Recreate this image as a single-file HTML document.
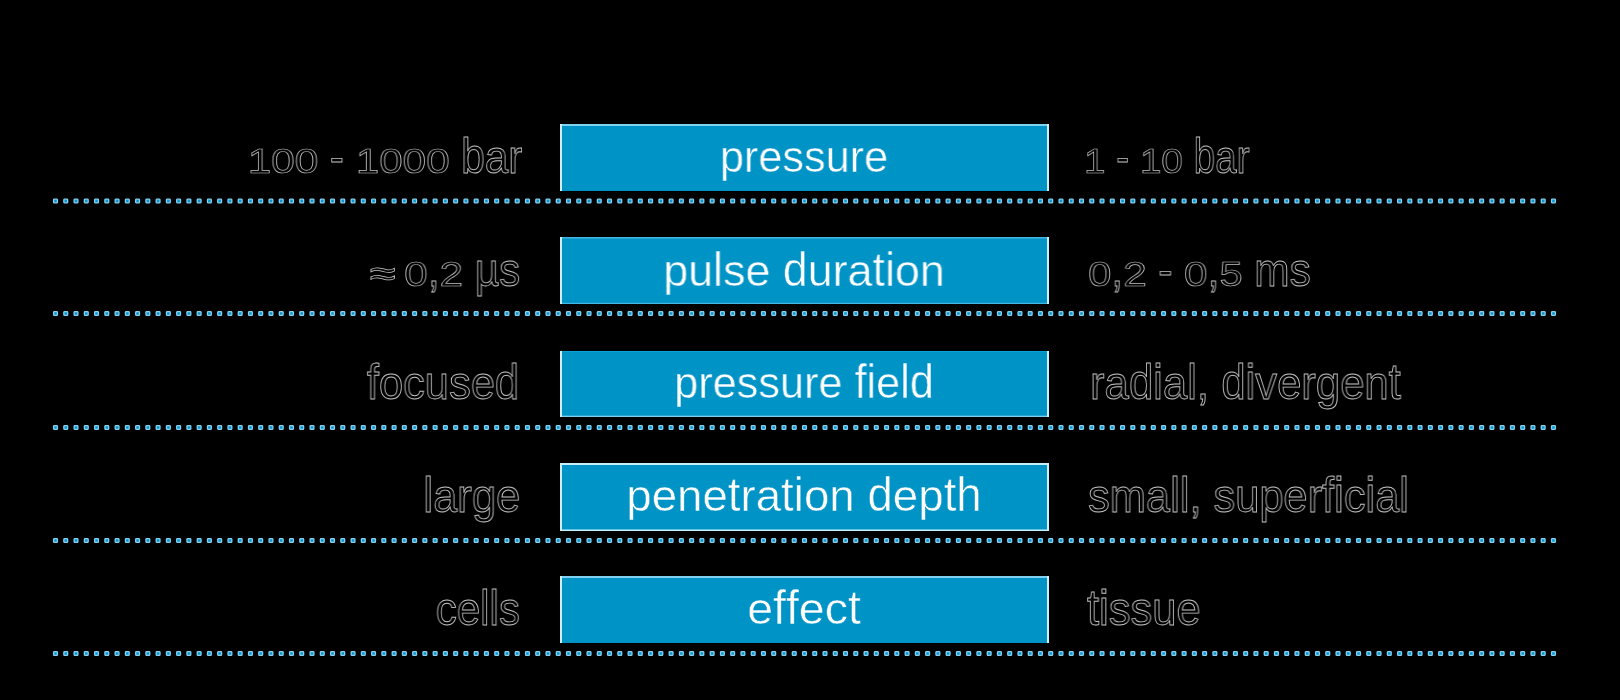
<!DOCTYPE html>
<html><head><meta charset="utf-8">
<style>
html,body{margin:0;padding:0;background:#000;width:1620px;height:700px;overflow:hidden;}
body{position:relative;font-family:"Liberation Sans",sans-serif;}
.t{position:absolute;white-space:nowrap;will-change:transform;}
.w{color:#fff;-webkit-text-stroke:0.5px #0093c6;}
.o{color:#000;-webkit-text-stroke:0.9px #c4c4c4;}
.ap{display:inline-block;transform:translate(2px,3px) scale(1.12,0.8);transform-origin:50% 50%;}
.d{display:inline-block;transform:scaleY(0.77);transform-origin:50% 0.8465em;}
.ab{display:inline-block;transform:scaleY(1.08);transform-origin:50% 0.8465em;}
.a{display:inline-block;transform:scaleY(1.1);transform-origin:50% 0.8465em;}
svg{position:absolute;left:0;top:0;}
</style></head><body>

<svg width="1620" height="700" viewBox="0 0 1620 700">
<rect x="560" y="124" width="489" height="67" fill="#0093c6"/>
<rect x="560" y="124" width="489" height="2" fill="#7fd3f0"/>
<rect x="560" y="124" width="2" height="67" fill="#cdeffa"/>
<rect x="1047" y="124" width="2" height="67" fill="#cdeffa"/>
<g fill="#0a94cc" stroke="#86d2f2" stroke-width="1.3"><rect x="53.60" y="199.15" width="3.8" height="3.7" rx="0.7"/><rect x="63.86" y="199.15" width="3.8" height="3.7" rx="0.7"/><rect x="74.12" y="199.15" width="3.8" height="3.7" rx="0.7"/><rect x="84.38" y="199.15" width="3.8" height="3.7" rx="0.7"/><rect x="94.64" y="199.15" width="3.8" height="3.7" rx="0.7"/><rect x="104.90" y="199.15" width="3.8" height="3.7" rx="0.7"/><rect x="115.16" y="199.15" width="3.8" height="3.7" rx="0.7"/><rect x="125.42" y="199.15" width="3.8" height="3.7" rx="0.7"/><rect x="135.68" y="199.15" width="3.8" height="3.7" rx="0.7"/><rect x="145.94" y="199.15" width="3.8" height="3.7" rx="0.7"/><rect x="156.20" y="199.15" width="3.8" height="3.7" rx="0.7"/><rect x="166.46" y="199.15" width="3.8" height="3.7" rx="0.7"/><rect x="176.72" y="199.15" width="3.8" height="3.7" rx="0.7"/><rect x="186.98" y="199.15" width="3.8" height="3.7" rx="0.7"/><rect x="197.24" y="199.15" width="3.8" height="3.7" rx="0.7"/><rect x="207.50" y="199.15" width="3.8" height="3.7" rx="0.7"/><rect x="217.76" y="199.15" width="3.8" height="3.7" rx="0.7"/><rect x="228.02" y="199.15" width="3.8" height="3.7" rx="0.7"/><rect x="238.28" y="199.15" width="3.8" height="3.7" rx="0.7"/><rect x="248.54" y="199.15" width="3.8" height="3.7" rx="0.7"/><rect x="258.80" y="199.15" width="3.8" height="3.7" rx="0.7"/><rect x="269.06" y="199.15" width="3.8" height="3.7" rx="0.7"/><rect x="279.32" y="199.15" width="3.8" height="3.7" rx="0.7"/><rect x="289.58" y="199.15" width="3.8" height="3.7" rx="0.7"/><rect x="299.84" y="199.15" width="3.8" height="3.7" rx="0.7"/><rect x="310.10" y="199.15" width="3.8" height="3.7" rx="0.7"/><rect x="320.36" y="199.15" width="3.8" height="3.7" rx="0.7"/><rect x="330.62" y="199.15" width="3.8" height="3.7" rx="0.7"/><rect x="340.88" y="199.15" width="3.8" height="3.7" rx="0.7"/><rect x="351.14" y="199.15" width="3.8" height="3.7" rx="0.7"/><rect x="361.40" y="199.15" width="3.8" height="3.7" rx="0.7"/><rect x="371.66" y="199.15" width="3.8" height="3.7" rx="0.7"/><rect x="381.92" y="199.15" width="3.8" height="3.7" rx="0.7"/><rect x="392.18" y="199.15" width="3.8" height="3.7" rx="0.7"/><rect x="402.44" y="199.15" width="3.8" height="3.7" rx="0.7"/><rect x="412.70" y="199.15" width="3.8" height="3.7" rx="0.7"/><rect x="422.96" y="199.15" width="3.8" height="3.7" rx="0.7"/><rect x="433.22" y="199.15" width="3.8" height="3.7" rx="0.7"/><rect x="443.48" y="199.15" width="3.8" height="3.7" rx="0.7"/><rect x="453.74" y="199.15" width="3.8" height="3.7" rx="0.7"/><rect x="464.00" y="199.15" width="3.8" height="3.7" rx="0.7"/><rect x="474.26" y="199.15" width="3.8" height="3.7" rx="0.7"/><rect x="484.52" y="199.15" width="3.8" height="3.7" rx="0.7"/><rect x="494.78" y="199.15" width="3.8" height="3.7" rx="0.7"/><rect x="505.04" y="199.15" width="3.8" height="3.7" rx="0.7"/><rect x="515.30" y="199.15" width="3.8" height="3.7" rx="0.7"/><rect x="525.56" y="199.15" width="3.8" height="3.7" rx="0.7"/><rect x="535.82" y="199.15" width="3.8" height="3.7" rx="0.7"/><rect x="546.08" y="199.15" width="3.8" height="3.7" rx="0.7"/><rect x="556.34" y="199.15" width="3.8" height="3.7" rx="0.7"/><rect x="566.60" y="199.15" width="3.8" height="3.7" rx="0.7"/><rect x="576.86" y="199.15" width="3.8" height="3.7" rx="0.7"/><rect x="587.12" y="199.15" width="3.8" height="3.7" rx="0.7"/><rect x="597.38" y="199.15" width="3.8" height="3.7" rx="0.7"/><rect x="607.64" y="199.15" width="3.8" height="3.7" rx="0.7"/><rect x="617.90" y="199.15" width="3.8" height="3.7" rx="0.7"/><rect x="628.16" y="199.15" width="3.8" height="3.7" rx="0.7"/><rect x="638.42" y="199.15" width="3.8" height="3.7" rx="0.7"/><rect x="648.68" y="199.15" width="3.8" height="3.7" rx="0.7"/><rect x="658.94" y="199.15" width="3.8" height="3.7" rx="0.7"/><rect x="669.20" y="199.15" width="3.8" height="3.7" rx="0.7"/><rect x="679.46" y="199.15" width="3.8" height="3.7" rx="0.7"/><rect x="689.72" y="199.15" width="3.8" height="3.7" rx="0.7"/><rect x="699.98" y="199.15" width="3.8" height="3.7" rx="0.7"/><rect x="710.24" y="199.15" width="3.8" height="3.7" rx="0.7"/><rect x="720.50" y="199.15" width="3.8" height="3.7" rx="0.7"/><rect x="730.76" y="199.15" width="3.8" height="3.7" rx="0.7"/><rect x="741.02" y="199.15" width="3.8" height="3.7" rx="0.7"/><rect x="751.28" y="199.15" width="3.8" height="3.7" rx="0.7"/><rect x="761.54" y="199.15" width="3.8" height="3.7" rx="0.7"/><rect x="771.80" y="199.15" width="3.8" height="3.7" rx="0.7"/><rect x="782.06" y="199.15" width="3.8" height="3.7" rx="0.7"/><rect x="792.32" y="199.15" width="3.8" height="3.7" rx="0.7"/><rect x="802.58" y="199.15" width="3.8" height="3.7" rx="0.7"/><rect x="812.84" y="199.15" width="3.8" height="3.7" rx="0.7"/><rect x="823.10" y="199.15" width="3.8" height="3.7" rx="0.7"/><rect x="833.36" y="199.15" width="3.8" height="3.7" rx="0.7"/><rect x="843.62" y="199.15" width="3.8" height="3.7" rx="0.7"/><rect x="853.88" y="199.15" width="3.8" height="3.7" rx="0.7"/><rect x="864.14" y="199.15" width="3.8" height="3.7" rx="0.7"/><rect x="874.40" y="199.15" width="3.8" height="3.7" rx="0.7"/><rect x="884.66" y="199.15" width="3.8" height="3.7" rx="0.7"/><rect x="894.92" y="199.15" width="3.8" height="3.7" rx="0.7"/><rect x="905.18" y="199.15" width="3.8" height="3.7" rx="0.7"/><rect x="915.44" y="199.15" width="3.8" height="3.7" rx="0.7"/><rect x="925.70" y="199.15" width="3.8" height="3.7" rx="0.7"/><rect x="935.96" y="199.15" width="3.8" height="3.7" rx="0.7"/><rect x="946.22" y="199.15" width="3.8" height="3.7" rx="0.7"/><rect x="956.48" y="199.15" width="3.8" height="3.7" rx="0.7"/><rect x="966.74" y="199.15" width="3.8" height="3.7" rx="0.7"/><rect x="977.00" y="199.15" width="3.8" height="3.7" rx="0.7"/><rect x="987.26" y="199.15" width="3.8" height="3.7" rx="0.7"/><rect x="997.52" y="199.15" width="3.8" height="3.7" rx="0.7"/><rect x="1007.78" y="199.15" width="3.8" height="3.7" rx="0.7"/><rect x="1018.04" y="199.15" width="3.8" height="3.7" rx="0.7"/><rect x="1028.30" y="199.15" width="3.8" height="3.7" rx="0.7"/><rect x="1038.56" y="199.15" width="3.8" height="3.7" rx="0.7"/><rect x="1048.82" y="199.15" width="3.8" height="3.7" rx="0.7"/><rect x="1059.08" y="199.15" width="3.8" height="3.7" rx="0.7"/><rect x="1069.34" y="199.15" width="3.8" height="3.7" rx="0.7"/><rect x="1079.60" y="199.15" width="3.8" height="3.7" rx="0.7"/><rect x="1089.86" y="199.15" width="3.8" height="3.7" rx="0.7"/><rect x="1100.12" y="199.15" width="3.8" height="3.7" rx="0.7"/><rect x="1110.38" y="199.15" width="3.8" height="3.7" rx="0.7"/><rect x="1120.64" y="199.15" width="3.8" height="3.7" rx="0.7"/><rect x="1130.90" y="199.15" width="3.8" height="3.7" rx="0.7"/><rect x="1141.16" y="199.15" width="3.8" height="3.7" rx="0.7"/><rect x="1151.42" y="199.15" width="3.8" height="3.7" rx="0.7"/><rect x="1161.68" y="199.15" width="3.8" height="3.7" rx="0.7"/><rect x="1171.94" y="199.15" width="3.8" height="3.7" rx="0.7"/><rect x="1182.20" y="199.15" width="3.8" height="3.7" rx="0.7"/><rect x="1192.46" y="199.15" width="3.8" height="3.7" rx="0.7"/><rect x="1202.72" y="199.15" width="3.8" height="3.7" rx="0.7"/><rect x="1212.98" y="199.15" width="3.8" height="3.7" rx="0.7"/><rect x="1223.24" y="199.15" width="3.8" height="3.7" rx="0.7"/><rect x="1233.50" y="199.15" width="3.8" height="3.7" rx="0.7"/><rect x="1243.76" y="199.15" width="3.8" height="3.7" rx="0.7"/><rect x="1254.02" y="199.15" width="3.8" height="3.7" rx="0.7"/><rect x="1264.28" y="199.15" width="3.8" height="3.7" rx="0.7"/><rect x="1274.54" y="199.15" width="3.8" height="3.7" rx="0.7"/><rect x="1284.80" y="199.15" width="3.8" height="3.7" rx="0.7"/><rect x="1295.06" y="199.15" width="3.8" height="3.7" rx="0.7"/><rect x="1305.32" y="199.15" width="3.8" height="3.7" rx="0.7"/><rect x="1315.58" y="199.15" width="3.8" height="3.7" rx="0.7"/><rect x="1325.84" y="199.15" width="3.8" height="3.7" rx="0.7"/><rect x="1336.10" y="199.15" width="3.8" height="3.7" rx="0.7"/><rect x="1346.36" y="199.15" width="3.8" height="3.7" rx="0.7"/><rect x="1356.62" y="199.15" width="3.8" height="3.7" rx="0.7"/><rect x="1366.88" y="199.15" width="3.8" height="3.7" rx="0.7"/><rect x="1377.14" y="199.15" width="3.8" height="3.7" rx="0.7"/><rect x="1387.40" y="199.15" width="3.8" height="3.7" rx="0.7"/><rect x="1397.66" y="199.15" width="3.8" height="3.7" rx="0.7"/><rect x="1407.92" y="199.15" width="3.8" height="3.7" rx="0.7"/><rect x="1418.18" y="199.15" width="3.8" height="3.7" rx="0.7"/><rect x="1428.44" y="199.15" width="3.8" height="3.7" rx="0.7"/><rect x="1438.70" y="199.15" width="3.8" height="3.7" rx="0.7"/><rect x="1448.96" y="199.15" width="3.8" height="3.7" rx="0.7"/><rect x="1459.22" y="199.15" width="3.8" height="3.7" rx="0.7"/><rect x="1469.48" y="199.15" width="3.8" height="3.7" rx="0.7"/><rect x="1479.74" y="199.15" width="3.8" height="3.7" rx="0.7"/><rect x="1490.00" y="199.15" width="3.8" height="3.7" rx="0.7"/><rect x="1500.26" y="199.15" width="3.8" height="3.7" rx="0.7"/><rect x="1510.52" y="199.15" width="3.8" height="3.7" rx="0.7"/><rect x="1520.78" y="199.15" width="3.8" height="3.7" rx="0.7"/><rect x="1531.04" y="199.15" width="3.8" height="3.7" rx="0.7"/><rect x="1541.30" y="199.15" width="3.8" height="3.7" rx="0.7"/><rect x="1551.56" y="199.15" width="3.8" height="3.7" rx="0.7"/></g>
<rect x="560" y="237" width="489" height="67" fill="#0093c6"/>
<rect x="560" y="237" width="489" height="1.5" fill="#45b5e2"/>
<rect x="560" y="302.8" width="489" height="1.2" fill="#42b8e6"/>
<rect x="560" y="237" width="2" height="67" fill="#cdeffa"/>
<rect x="1047" y="237" width="2" height="67" fill="#cdeffa"/>
<g fill="#0a94cc" stroke="#86d2f2" stroke-width="1.3"><rect x="53.60" y="311.65" width="3.8" height="3.7" rx="0.7"/><rect x="63.86" y="311.65" width="3.8" height="3.7" rx="0.7"/><rect x="74.12" y="311.65" width="3.8" height="3.7" rx="0.7"/><rect x="84.38" y="311.65" width="3.8" height="3.7" rx="0.7"/><rect x="94.64" y="311.65" width="3.8" height="3.7" rx="0.7"/><rect x="104.90" y="311.65" width="3.8" height="3.7" rx="0.7"/><rect x="115.16" y="311.65" width="3.8" height="3.7" rx="0.7"/><rect x="125.42" y="311.65" width="3.8" height="3.7" rx="0.7"/><rect x="135.68" y="311.65" width="3.8" height="3.7" rx="0.7"/><rect x="145.94" y="311.65" width="3.8" height="3.7" rx="0.7"/><rect x="156.20" y="311.65" width="3.8" height="3.7" rx="0.7"/><rect x="166.46" y="311.65" width="3.8" height="3.7" rx="0.7"/><rect x="176.72" y="311.65" width="3.8" height="3.7" rx="0.7"/><rect x="186.98" y="311.65" width="3.8" height="3.7" rx="0.7"/><rect x="197.24" y="311.65" width="3.8" height="3.7" rx="0.7"/><rect x="207.50" y="311.65" width="3.8" height="3.7" rx="0.7"/><rect x="217.76" y="311.65" width="3.8" height="3.7" rx="0.7"/><rect x="228.02" y="311.65" width="3.8" height="3.7" rx="0.7"/><rect x="238.28" y="311.65" width="3.8" height="3.7" rx="0.7"/><rect x="248.54" y="311.65" width="3.8" height="3.7" rx="0.7"/><rect x="258.80" y="311.65" width="3.8" height="3.7" rx="0.7"/><rect x="269.06" y="311.65" width="3.8" height="3.7" rx="0.7"/><rect x="279.32" y="311.65" width="3.8" height="3.7" rx="0.7"/><rect x="289.58" y="311.65" width="3.8" height="3.7" rx="0.7"/><rect x="299.84" y="311.65" width="3.8" height="3.7" rx="0.7"/><rect x="310.10" y="311.65" width="3.8" height="3.7" rx="0.7"/><rect x="320.36" y="311.65" width="3.8" height="3.7" rx="0.7"/><rect x="330.62" y="311.65" width="3.8" height="3.7" rx="0.7"/><rect x="340.88" y="311.65" width="3.8" height="3.7" rx="0.7"/><rect x="351.14" y="311.65" width="3.8" height="3.7" rx="0.7"/><rect x="361.40" y="311.65" width="3.8" height="3.7" rx="0.7"/><rect x="371.66" y="311.65" width="3.8" height="3.7" rx="0.7"/><rect x="381.92" y="311.65" width="3.8" height="3.7" rx="0.7"/><rect x="392.18" y="311.65" width="3.8" height="3.7" rx="0.7"/><rect x="402.44" y="311.65" width="3.8" height="3.7" rx="0.7"/><rect x="412.70" y="311.65" width="3.8" height="3.7" rx="0.7"/><rect x="422.96" y="311.65" width="3.8" height="3.7" rx="0.7"/><rect x="433.22" y="311.65" width="3.8" height="3.7" rx="0.7"/><rect x="443.48" y="311.65" width="3.8" height="3.7" rx="0.7"/><rect x="453.74" y="311.65" width="3.8" height="3.7" rx="0.7"/><rect x="464.00" y="311.65" width="3.8" height="3.7" rx="0.7"/><rect x="474.26" y="311.65" width="3.8" height="3.7" rx="0.7"/><rect x="484.52" y="311.65" width="3.8" height="3.7" rx="0.7"/><rect x="494.78" y="311.65" width="3.8" height="3.7" rx="0.7"/><rect x="505.04" y="311.65" width="3.8" height="3.7" rx="0.7"/><rect x="515.30" y="311.65" width="3.8" height="3.7" rx="0.7"/><rect x="525.56" y="311.65" width="3.8" height="3.7" rx="0.7"/><rect x="535.82" y="311.65" width="3.8" height="3.7" rx="0.7"/><rect x="546.08" y="311.65" width="3.8" height="3.7" rx="0.7"/><rect x="556.34" y="311.65" width="3.8" height="3.7" rx="0.7"/><rect x="566.60" y="311.65" width="3.8" height="3.7" rx="0.7"/><rect x="576.86" y="311.65" width="3.8" height="3.7" rx="0.7"/><rect x="587.12" y="311.65" width="3.8" height="3.7" rx="0.7"/><rect x="597.38" y="311.65" width="3.8" height="3.7" rx="0.7"/><rect x="607.64" y="311.65" width="3.8" height="3.7" rx="0.7"/><rect x="617.90" y="311.65" width="3.8" height="3.7" rx="0.7"/><rect x="628.16" y="311.65" width="3.8" height="3.7" rx="0.7"/><rect x="638.42" y="311.65" width="3.8" height="3.7" rx="0.7"/><rect x="648.68" y="311.65" width="3.8" height="3.7" rx="0.7"/><rect x="658.94" y="311.65" width="3.8" height="3.7" rx="0.7"/><rect x="669.20" y="311.65" width="3.8" height="3.7" rx="0.7"/><rect x="679.46" y="311.65" width="3.8" height="3.7" rx="0.7"/><rect x="689.72" y="311.65" width="3.8" height="3.7" rx="0.7"/><rect x="699.98" y="311.65" width="3.8" height="3.7" rx="0.7"/><rect x="710.24" y="311.65" width="3.8" height="3.7" rx="0.7"/><rect x="720.50" y="311.65" width="3.8" height="3.7" rx="0.7"/><rect x="730.76" y="311.65" width="3.8" height="3.7" rx="0.7"/><rect x="741.02" y="311.65" width="3.8" height="3.7" rx="0.7"/><rect x="751.28" y="311.65" width="3.8" height="3.7" rx="0.7"/><rect x="761.54" y="311.65" width="3.8" height="3.7" rx="0.7"/><rect x="771.80" y="311.65" width="3.8" height="3.7" rx="0.7"/><rect x="782.06" y="311.65" width="3.8" height="3.7" rx="0.7"/><rect x="792.32" y="311.65" width="3.8" height="3.7" rx="0.7"/><rect x="802.58" y="311.65" width="3.8" height="3.7" rx="0.7"/><rect x="812.84" y="311.65" width="3.8" height="3.7" rx="0.7"/><rect x="823.10" y="311.65" width="3.8" height="3.7" rx="0.7"/><rect x="833.36" y="311.65" width="3.8" height="3.7" rx="0.7"/><rect x="843.62" y="311.65" width="3.8" height="3.7" rx="0.7"/><rect x="853.88" y="311.65" width="3.8" height="3.7" rx="0.7"/><rect x="864.14" y="311.65" width="3.8" height="3.7" rx="0.7"/><rect x="874.40" y="311.65" width="3.8" height="3.7" rx="0.7"/><rect x="884.66" y="311.65" width="3.8" height="3.7" rx="0.7"/><rect x="894.92" y="311.65" width="3.8" height="3.7" rx="0.7"/><rect x="905.18" y="311.65" width="3.8" height="3.7" rx="0.7"/><rect x="915.44" y="311.65" width="3.8" height="3.7" rx="0.7"/><rect x="925.70" y="311.65" width="3.8" height="3.7" rx="0.7"/><rect x="935.96" y="311.65" width="3.8" height="3.7" rx="0.7"/><rect x="946.22" y="311.65" width="3.8" height="3.7" rx="0.7"/><rect x="956.48" y="311.65" width="3.8" height="3.7" rx="0.7"/><rect x="966.74" y="311.65" width="3.8" height="3.7" rx="0.7"/><rect x="977.00" y="311.65" width="3.8" height="3.7" rx="0.7"/><rect x="987.26" y="311.65" width="3.8" height="3.7" rx="0.7"/><rect x="997.52" y="311.65" width="3.8" height="3.7" rx="0.7"/><rect x="1007.78" y="311.65" width="3.8" height="3.7" rx="0.7"/><rect x="1018.04" y="311.65" width="3.8" height="3.7" rx="0.7"/><rect x="1028.30" y="311.65" width="3.8" height="3.7" rx="0.7"/><rect x="1038.56" y="311.65" width="3.8" height="3.7" rx="0.7"/><rect x="1048.82" y="311.65" width="3.8" height="3.7" rx="0.7"/><rect x="1059.08" y="311.65" width="3.8" height="3.7" rx="0.7"/><rect x="1069.34" y="311.65" width="3.8" height="3.7" rx="0.7"/><rect x="1079.60" y="311.65" width="3.8" height="3.7" rx="0.7"/><rect x="1089.86" y="311.65" width="3.8" height="3.7" rx="0.7"/><rect x="1100.12" y="311.65" width="3.8" height="3.7" rx="0.7"/><rect x="1110.38" y="311.65" width="3.8" height="3.7" rx="0.7"/><rect x="1120.64" y="311.65" width="3.8" height="3.7" rx="0.7"/><rect x="1130.90" y="311.65" width="3.8" height="3.7" rx="0.7"/><rect x="1141.16" y="311.65" width="3.8" height="3.7" rx="0.7"/><rect x="1151.42" y="311.65" width="3.8" height="3.7" rx="0.7"/><rect x="1161.68" y="311.65" width="3.8" height="3.7" rx="0.7"/><rect x="1171.94" y="311.65" width="3.8" height="3.7" rx="0.7"/><rect x="1182.20" y="311.65" width="3.8" height="3.7" rx="0.7"/><rect x="1192.46" y="311.65" width="3.8" height="3.7" rx="0.7"/><rect x="1202.72" y="311.65" width="3.8" height="3.7" rx="0.7"/><rect x="1212.98" y="311.65" width="3.8" height="3.7" rx="0.7"/><rect x="1223.24" y="311.65" width="3.8" height="3.7" rx="0.7"/><rect x="1233.50" y="311.65" width="3.8" height="3.7" rx="0.7"/><rect x="1243.76" y="311.65" width="3.8" height="3.7" rx="0.7"/><rect x="1254.02" y="311.65" width="3.8" height="3.7" rx="0.7"/><rect x="1264.28" y="311.65" width="3.8" height="3.7" rx="0.7"/><rect x="1274.54" y="311.65" width="3.8" height="3.7" rx="0.7"/><rect x="1284.80" y="311.65" width="3.8" height="3.7" rx="0.7"/><rect x="1295.06" y="311.65" width="3.8" height="3.7" rx="0.7"/><rect x="1305.32" y="311.65" width="3.8" height="3.7" rx="0.7"/><rect x="1315.58" y="311.65" width="3.8" height="3.7" rx="0.7"/><rect x="1325.84" y="311.65" width="3.8" height="3.7" rx="0.7"/><rect x="1336.10" y="311.65" width="3.8" height="3.7" rx="0.7"/><rect x="1346.36" y="311.65" width="3.8" height="3.7" rx="0.7"/><rect x="1356.62" y="311.65" width="3.8" height="3.7" rx="0.7"/><rect x="1366.88" y="311.65" width="3.8" height="3.7" rx="0.7"/><rect x="1377.14" y="311.65" width="3.8" height="3.7" rx="0.7"/><rect x="1387.40" y="311.65" width="3.8" height="3.7" rx="0.7"/><rect x="1397.66" y="311.65" width="3.8" height="3.7" rx="0.7"/><rect x="1407.92" y="311.65" width="3.8" height="3.7" rx="0.7"/><rect x="1418.18" y="311.65" width="3.8" height="3.7" rx="0.7"/><rect x="1428.44" y="311.65" width="3.8" height="3.7" rx="0.7"/><rect x="1438.70" y="311.65" width="3.8" height="3.7" rx="0.7"/><rect x="1448.96" y="311.65" width="3.8" height="3.7" rx="0.7"/><rect x="1459.22" y="311.65" width="3.8" height="3.7" rx="0.7"/><rect x="1469.48" y="311.65" width="3.8" height="3.7" rx="0.7"/><rect x="1479.74" y="311.65" width="3.8" height="3.7" rx="0.7"/><rect x="1490.00" y="311.65" width="3.8" height="3.7" rx="0.7"/><rect x="1500.26" y="311.65" width="3.8" height="3.7" rx="0.7"/><rect x="1510.52" y="311.65" width="3.8" height="3.7" rx="0.7"/><rect x="1520.78" y="311.65" width="3.8" height="3.7" rx="0.7"/><rect x="1531.04" y="311.65" width="3.8" height="3.7" rx="0.7"/><rect x="1541.30" y="311.65" width="3.8" height="3.7" rx="0.7"/><rect x="1551.56" y="311.65" width="3.8" height="3.7" rx="0.7"/></g>
<rect x="560" y="351" width="489" height="66" fill="#0093c6"/>
<rect x="560" y="351" width="489" height="1" fill="#0aa0d8"/>
<rect x="560" y="415.7" width="489" height="1.3" fill="#80d0f0"/>
<rect x="560" y="351" width="2" height="66" fill="#cdeffa"/>
<rect x="1047" y="351" width="2" height="66" fill="#cdeffa"/>
<g fill="#0a94cc" stroke="#86d2f2" stroke-width="1.3"><rect x="53.60" y="425.65" width="3.8" height="3.7" rx="0.7"/><rect x="63.86" y="425.65" width="3.8" height="3.7" rx="0.7"/><rect x="74.12" y="425.65" width="3.8" height="3.7" rx="0.7"/><rect x="84.38" y="425.65" width="3.8" height="3.7" rx="0.7"/><rect x="94.64" y="425.65" width="3.8" height="3.7" rx="0.7"/><rect x="104.90" y="425.65" width="3.8" height="3.7" rx="0.7"/><rect x="115.16" y="425.65" width="3.8" height="3.7" rx="0.7"/><rect x="125.42" y="425.65" width="3.8" height="3.7" rx="0.7"/><rect x="135.68" y="425.65" width="3.8" height="3.7" rx="0.7"/><rect x="145.94" y="425.65" width="3.8" height="3.7" rx="0.7"/><rect x="156.20" y="425.65" width="3.8" height="3.7" rx="0.7"/><rect x="166.46" y="425.65" width="3.8" height="3.7" rx="0.7"/><rect x="176.72" y="425.65" width="3.8" height="3.7" rx="0.7"/><rect x="186.98" y="425.65" width="3.8" height="3.7" rx="0.7"/><rect x="197.24" y="425.65" width="3.8" height="3.7" rx="0.7"/><rect x="207.50" y="425.65" width="3.8" height="3.7" rx="0.7"/><rect x="217.76" y="425.65" width="3.8" height="3.7" rx="0.7"/><rect x="228.02" y="425.65" width="3.8" height="3.7" rx="0.7"/><rect x="238.28" y="425.65" width="3.8" height="3.7" rx="0.7"/><rect x="248.54" y="425.65" width="3.8" height="3.7" rx="0.7"/><rect x="258.80" y="425.65" width="3.8" height="3.7" rx="0.7"/><rect x="269.06" y="425.65" width="3.8" height="3.7" rx="0.7"/><rect x="279.32" y="425.65" width="3.8" height="3.7" rx="0.7"/><rect x="289.58" y="425.65" width="3.8" height="3.7" rx="0.7"/><rect x="299.84" y="425.65" width="3.8" height="3.7" rx="0.7"/><rect x="310.10" y="425.65" width="3.8" height="3.7" rx="0.7"/><rect x="320.36" y="425.65" width="3.8" height="3.7" rx="0.7"/><rect x="330.62" y="425.65" width="3.8" height="3.7" rx="0.7"/><rect x="340.88" y="425.65" width="3.8" height="3.7" rx="0.7"/><rect x="351.14" y="425.65" width="3.8" height="3.7" rx="0.7"/><rect x="361.40" y="425.65" width="3.8" height="3.7" rx="0.7"/><rect x="371.66" y="425.65" width="3.8" height="3.7" rx="0.7"/><rect x="381.92" y="425.65" width="3.8" height="3.7" rx="0.7"/><rect x="392.18" y="425.65" width="3.8" height="3.7" rx="0.7"/><rect x="402.44" y="425.65" width="3.8" height="3.7" rx="0.7"/><rect x="412.70" y="425.65" width="3.8" height="3.7" rx="0.7"/><rect x="422.96" y="425.65" width="3.8" height="3.7" rx="0.7"/><rect x="433.22" y="425.65" width="3.8" height="3.7" rx="0.7"/><rect x="443.48" y="425.65" width="3.8" height="3.7" rx="0.7"/><rect x="453.74" y="425.65" width="3.8" height="3.7" rx="0.7"/><rect x="464.00" y="425.65" width="3.8" height="3.7" rx="0.7"/><rect x="474.26" y="425.65" width="3.8" height="3.7" rx="0.7"/><rect x="484.52" y="425.65" width="3.8" height="3.7" rx="0.7"/><rect x="494.78" y="425.65" width="3.8" height="3.7" rx="0.7"/><rect x="505.04" y="425.65" width="3.8" height="3.7" rx="0.7"/><rect x="515.30" y="425.65" width="3.8" height="3.7" rx="0.7"/><rect x="525.56" y="425.65" width="3.8" height="3.7" rx="0.7"/><rect x="535.82" y="425.65" width="3.8" height="3.7" rx="0.7"/><rect x="546.08" y="425.65" width="3.8" height="3.7" rx="0.7"/><rect x="556.34" y="425.65" width="3.8" height="3.7" rx="0.7"/><rect x="566.60" y="425.65" width="3.8" height="3.7" rx="0.7"/><rect x="576.86" y="425.65" width="3.8" height="3.7" rx="0.7"/><rect x="587.12" y="425.65" width="3.8" height="3.7" rx="0.7"/><rect x="597.38" y="425.65" width="3.8" height="3.7" rx="0.7"/><rect x="607.64" y="425.65" width="3.8" height="3.7" rx="0.7"/><rect x="617.90" y="425.65" width="3.8" height="3.7" rx="0.7"/><rect x="628.16" y="425.65" width="3.8" height="3.7" rx="0.7"/><rect x="638.42" y="425.65" width="3.8" height="3.7" rx="0.7"/><rect x="648.68" y="425.65" width="3.8" height="3.7" rx="0.7"/><rect x="658.94" y="425.65" width="3.8" height="3.7" rx="0.7"/><rect x="669.20" y="425.65" width="3.8" height="3.7" rx="0.7"/><rect x="679.46" y="425.65" width="3.8" height="3.7" rx="0.7"/><rect x="689.72" y="425.65" width="3.8" height="3.7" rx="0.7"/><rect x="699.98" y="425.65" width="3.8" height="3.7" rx="0.7"/><rect x="710.24" y="425.65" width="3.8" height="3.7" rx="0.7"/><rect x="720.50" y="425.65" width="3.8" height="3.7" rx="0.7"/><rect x="730.76" y="425.65" width="3.8" height="3.7" rx="0.7"/><rect x="741.02" y="425.65" width="3.8" height="3.7" rx="0.7"/><rect x="751.28" y="425.65" width="3.8" height="3.7" rx="0.7"/><rect x="761.54" y="425.65" width="3.8" height="3.7" rx="0.7"/><rect x="771.80" y="425.65" width="3.8" height="3.7" rx="0.7"/><rect x="782.06" y="425.65" width="3.8" height="3.7" rx="0.7"/><rect x="792.32" y="425.65" width="3.8" height="3.7" rx="0.7"/><rect x="802.58" y="425.65" width="3.8" height="3.7" rx="0.7"/><rect x="812.84" y="425.65" width="3.8" height="3.7" rx="0.7"/><rect x="823.10" y="425.65" width="3.8" height="3.7" rx="0.7"/><rect x="833.36" y="425.65" width="3.8" height="3.7" rx="0.7"/><rect x="843.62" y="425.65" width="3.8" height="3.7" rx="0.7"/><rect x="853.88" y="425.65" width="3.8" height="3.7" rx="0.7"/><rect x="864.14" y="425.65" width="3.8" height="3.7" rx="0.7"/><rect x="874.40" y="425.65" width="3.8" height="3.7" rx="0.7"/><rect x="884.66" y="425.65" width="3.8" height="3.7" rx="0.7"/><rect x="894.92" y="425.65" width="3.8" height="3.7" rx="0.7"/><rect x="905.18" y="425.65" width="3.8" height="3.7" rx="0.7"/><rect x="915.44" y="425.65" width="3.8" height="3.7" rx="0.7"/><rect x="925.70" y="425.65" width="3.8" height="3.7" rx="0.7"/><rect x="935.96" y="425.65" width="3.8" height="3.7" rx="0.7"/><rect x="946.22" y="425.65" width="3.8" height="3.7" rx="0.7"/><rect x="956.48" y="425.65" width="3.8" height="3.7" rx="0.7"/><rect x="966.74" y="425.65" width="3.8" height="3.7" rx="0.7"/><rect x="977.00" y="425.65" width="3.8" height="3.7" rx="0.7"/><rect x="987.26" y="425.65" width="3.8" height="3.7" rx="0.7"/><rect x="997.52" y="425.65" width="3.8" height="3.7" rx="0.7"/><rect x="1007.78" y="425.65" width="3.8" height="3.7" rx="0.7"/><rect x="1018.04" y="425.65" width="3.8" height="3.7" rx="0.7"/><rect x="1028.30" y="425.65" width="3.8" height="3.7" rx="0.7"/><rect x="1038.56" y="425.65" width="3.8" height="3.7" rx="0.7"/><rect x="1048.82" y="425.65" width="3.8" height="3.7" rx="0.7"/><rect x="1059.08" y="425.65" width="3.8" height="3.7" rx="0.7"/><rect x="1069.34" y="425.65" width="3.8" height="3.7" rx="0.7"/><rect x="1079.60" y="425.65" width="3.8" height="3.7" rx="0.7"/><rect x="1089.86" y="425.65" width="3.8" height="3.7" rx="0.7"/><rect x="1100.12" y="425.65" width="3.8" height="3.7" rx="0.7"/><rect x="1110.38" y="425.65" width="3.8" height="3.7" rx="0.7"/><rect x="1120.64" y="425.65" width="3.8" height="3.7" rx="0.7"/><rect x="1130.90" y="425.65" width="3.8" height="3.7" rx="0.7"/><rect x="1141.16" y="425.65" width="3.8" height="3.7" rx="0.7"/><rect x="1151.42" y="425.65" width="3.8" height="3.7" rx="0.7"/><rect x="1161.68" y="425.65" width="3.8" height="3.7" rx="0.7"/><rect x="1171.94" y="425.65" width="3.8" height="3.7" rx="0.7"/><rect x="1182.20" y="425.65" width="3.8" height="3.7" rx="0.7"/><rect x="1192.46" y="425.65" width="3.8" height="3.7" rx="0.7"/><rect x="1202.72" y="425.65" width="3.8" height="3.7" rx="0.7"/><rect x="1212.98" y="425.65" width="3.8" height="3.7" rx="0.7"/><rect x="1223.24" y="425.65" width="3.8" height="3.7" rx="0.7"/><rect x="1233.50" y="425.65" width="3.8" height="3.7" rx="0.7"/><rect x="1243.76" y="425.65" width="3.8" height="3.7" rx="0.7"/><rect x="1254.02" y="425.65" width="3.8" height="3.7" rx="0.7"/><rect x="1264.28" y="425.65" width="3.8" height="3.7" rx="0.7"/><rect x="1274.54" y="425.65" width="3.8" height="3.7" rx="0.7"/><rect x="1284.80" y="425.65" width="3.8" height="3.7" rx="0.7"/><rect x="1295.06" y="425.65" width="3.8" height="3.7" rx="0.7"/><rect x="1305.32" y="425.65" width="3.8" height="3.7" rx="0.7"/><rect x="1315.58" y="425.65" width="3.8" height="3.7" rx="0.7"/><rect x="1325.84" y="425.65" width="3.8" height="3.7" rx="0.7"/><rect x="1336.10" y="425.65" width="3.8" height="3.7" rx="0.7"/><rect x="1346.36" y="425.65" width="3.8" height="3.7" rx="0.7"/><rect x="1356.62" y="425.65" width="3.8" height="3.7" rx="0.7"/><rect x="1366.88" y="425.65" width="3.8" height="3.7" rx="0.7"/><rect x="1377.14" y="425.65" width="3.8" height="3.7" rx="0.7"/><rect x="1387.40" y="425.65" width="3.8" height="3.7" rx="0.7"/><rect x="1397.66" y="425.65" width="3.8" height="3.7" rx="0.7"/><rect x="1407.92" y="425.65" width="3.8" height="3.7" rx="0.7"/><rect x="1418.18" y="425.65" width="3.8" height="3.7" rx="0.7"/><rect x="1428.44" y="425.65" width="3.8" height="3.7" rx="0.7"/><rect x="1438.70" y="425.65" width="3.8" height="3.7" rx="0.7"/><rect x="1448.96" y="425.65" width="3.8" height="3.7" rx="0.7"/><rect x="1459.22" y="425.65" width="3.8" height="3.7" rx="0.7"/><rect x="1469.48" y="425.65" width="3.8" height="3.7" rx="0.7"/><rect x="1479.74" y="425.65" width="3.8" height="3.7" rx="0.7"/><rect x="1490.00" y="425.65" width="3.8" height="3.7" rx="0.7"/><rect x="1500.26" y="425.65" width="3.8" height="3.7" rx="0.7"/><rect x="1510.52" y="425.65" width="3.8" height="3.7" rx="0.7"/><rect x="1520.78" y="425.65" width="3.8" height="3.7" rx="0.7"/><rect x="1531.04" y="425.65" width="3.8" height="3.7" rx="0.7"/><rect x="1541.30" y="425.65" width="3.8" height="3.7" rx="0.7"/><rect x="1551.56" y="425.65" width="3.8" height="3.7" rx="0.7"/></g>
<rect x="560" y="463" width="489" height="68" fill="#0093c6"/>
<rect x="560" y="463" width="489" height="2" fill="#c8f0fa"/>
<rect x="560" y="529.5" width="489" height="1.5" fill="#c8f2fc"/>
<rect x="560" y="463" width="2" height="68" fill="#cdeffa"/>
<rect x="1047" y="463" width="2" height="68" fill="#cdeffa"/>
<g fill="#0a94cc" stroke="#86d2f2" stroke-width="1.3"><rect x="53.60" y="538.65" width="3.8" height="3.7" rx="0.7"/><rect x="63.86" y="538.65" width="3.8" height="3.7" rx="0.7"/><rect x="74.12" y="538.65" width="3.8" height="3.7" rx="0.7"/><rect x="84.38" y="538.65" width="3.8" height="3.7" rx="0.7"/><rect x="94.64" y="538.65" width="3.8" height="3.7" rx="0.7"/><rect x="104.90" y="538.65" width="3.8" height="3.7" rx="0.7"/><rect x="115.16" y="538.65" width="3.8" height="3.7" rx="0.7"/><rect x="125.42" y="538.65" width="3.8" height="3.7" rx="0.7"/><rect x="135.68" y="538.65" width="3.8" height="3.7" rx="0.7"/><rect x="145.94" y="538.65" width="3.8" height="3.7" rx="0.7"/><rect x="156.20" y="538.65" width="3.8" height="3.7" rx="0.7"/><rect x="166.46" y="538.65" width="3.8" height="3.7" rx="0.7"/><rect x="176.72" y="538.65" width="3.8" height="3.7" rx="0.7"/><rect x="186.98" y="538.65" width="3.8" height="3.7" rx="0.7"/><rect x="197.24" y="538.65" width="3.8" height="3.7" rx="0.7"/><rect x="207.50" y="538.65" width="3.8" height="3.7" rx="0.7"/><rect x="217.76" y="538.65" width="3.8" height="3.7" rx="0.7"/><rect x="228.02" y="538.65" width="3.8" height="3.7" rx="0.7"/><rect x="238.28" y="538.65" width="3.8" height="3.7" rx="0.7"/><rect x="248.54" y="538.65" width="3.8" height="3.7" rx="0.7"/><rect x="258.80" y="538.65" width="3.8" height="3.7" rx="0.7"/><rect x="269.06" y="538.65" width="3.8" height="3.7" rx="0.7"/><rect x="279.32" y="538.65" width="3.8" height="3.7" rx="0.7"/><rect x="289.58" y="538.65" width="3.8" height="3.7" rx="0.7"/><rect x="299.84" y="538.65" width="3.8" height="3.7" rx="0.7"/><rect x="310.10" y="538.65" width="3.8" height="3.7" rx="0.7"/><rect x="320.36" y="538.65" width="3.8" height="3.7" rx="0.7"/><rect x="330.62" y="538.65" width="3.8" height="3.7" rx="0.7"/><rect x="340.88" y="538.65" width="3.8" height="3.7" rx="0.7"/><rect x="351.14" y="538.65" width="3.8" height="3.7" rx="0.7"/><rect x="361.40" y="538.65" width="3.8" height="3.7" rx="0.7"/><rect x="371.66" y="538.65" width="3.8" height="3.7" rx="0.7"/><rect x="381.92" y="538.65" width="3.8" height="3.7" rx="0.7"/><rect x="392.18" y="538.65" width="3.8" height="3.7" rx="0.7"/><rect x="402.44" y="538.65" width="3.8" height="3.7" rx="0.7"/><rect x="412.70" y="538.65" width="3.8" height="3.7" rx="0.7"/><rect x="422.96" y="538.65" width="3.8" height="3.7" rx="0.7"/><rect x="433.22" y="538.65" width="3.8" height="3.7" rx="0.7"/><rect x="443.48" y="538.65" width="3.8" height="3.7" rx="0.7"/><rect x="453.74" y="538.65" width="3.8" height="3.7" rx="0.7"/><rect x="464.00" y="538.65" width="3.8" height="3.7" rx="0.7"/><rect x="474.26" y="538.65" width="3.8" height="3.7" rx="0.7"/><rect x="484.52" y="538.65" width="3.8" height="3.7" rx="0.7"/><rect x="494.78" y="538.65" width="3.8" height="3.7" rx="0.7"/><rect x="505.04" y="538.65" width="3.8" height="3.7" rx="0.7"/><rect x="515.30" y="538.65" width="3.8" height="3.7" rx="0.7"/><rect x="525.56" y="538.65" width="3.8" height="3.7" rx="0.7"/><rect x="535.82" y="538.65" width="3.8" height="3.7" rx="0.7"/><rect x="546.08" y="538.65" width="3.8" height="3.7" rx="0.7"/><rect x="556.34" y="538.65" width="3.8" height="3.7" rx="0.7"/><rect x="566.60" y="538.65" width="3.8" height="3.7" rx="0.7"/><rect x="576.86" y="538.65" width="3.8" height="3.7" rx="0.7"/><rect x="587.12" y="538.65" width="3.8" height="3.7" rx="0.7"/><rect x="597.38" y="538.65" width="3.8" height="3.7" rx="0.7"/><rect x="607.64" y="538.65" width="3.8" height="3.7" rx="0.7"/><rect x="617.90" y="538.65" width="3.8" height="3.7" rx="0.7"/><rect x="628.16" y="538.65" width="3.8" height="3.7" rx="0.7"/><rect x="638.42" y="538.65" width="3.8" height="3.7" rx="0.7"/><rect x="648.68" y="538.65" width="3.8" height="3.7" rx="0.7"/><rect x="658.94" y="538.65" width="3.8" height="3.7" rx="0.7"/><rect x="669.20" y="538.65" width="3.8" height="3.7" rx="0.7"/><rect x="679.46" y="538.65" width="3.8" height="3.7" rx="0.7"/><rect x="689.72" y="538.65" width="3.8" height="3.7" rx="0.7"/><rect x="699.98" y="538.65" width="3.8" height="3.7" rx="0.7"/><rect x="710.24" y="538.65" width="3.8" height="3.7" rx="0.7"/><rect x="720.50" y="538.65" width="3.8" height="3.7" rx="0.7"/><rect x="730.76" y="538.65" width="3.8" height="3.7" rx="0.7"/><rect x="741.02" y="538.65" width="3.8" height="3.7" rx="0.7"/><rect x="751.28" y="538.65" width="3.8" height="3.7" rx="0.7"/><rect x="761.54" y="538.65" width="3.8" height="3.7" rx="0.7"/><rect x="771.80" y="538.65" width="3.8" height="3.7" rx="0.7"/><rect x="782.06" y="538.65" width="3.8" height="3.7" rx="0.7"/><rect x="792.32" y="538.65" width="3.8" height="3.7" rx="0.7"/><rect x="802.58" y="538.65" width="3.8" height="3.7" rx="0.7"/><rect x="812.84" y="538.65" width="3.8" height="3.7" rx="0.7"/><rect x="823.10" y="538.65" width="3.8" height="3.7" rx="0.7"/><rect x="833.36" y="538.65" width="3.8" height="3.7" rx="0.7"/><rect x="843.62" y="538.65" width="3.8" height="3.7" rx="0.7"/><rect x="853.88" y="538.65" width="3.8" height="3.7" rx="0.7"/><rect x="864.14" y="538.65" width="3.8" height="3.7" rx="0.7"/><rect x="874.40" y="538.65" width="3.8" height="3.7" rx="0.7"/><rect x="884.66" y="538.65" width="3.8" height="3.7" rx="0.7"/><rect x="894.92" y="538.65" width="3.8" height="3.7" rx="0.7"/><rect x="905.18" y="538.65" width="3.8" height="3.7" rx="0.7"/><rect x="915.44" y="538.65" width="3.8" height="3.7" rx="0.7"/><rect x="925.70" y="538.65" width="3.8" height="3.7" rx="0.7"/><rect x="935.96" y="538.65" width="3.8" height="3.7" rx="0.7"/><rect x="946.22" y="538.65" width="3.8" height="3.7" rx="0.7"/><rect x="956.48" y="538.65" width="3.8" height="3.7" rx="0.7"/><rect x="966.74" y="538.65" width="3.8" height="3.7" rx="0.7"/><rect x="977.00" y="538.65" width="3.8" height="3.7" rx="0.7"/><rect x="987.26" y="538.65" width="3.8" height="3.7" rx="0.7"/><rect x="997.52" y="538.65" width="3.8" height="3.7" rx="0.7"/><rect x="1007.78" y="538.65" width="3.8" height="3.7" rx="0.7"/><rect x="1018.04" y="538.65" width="3.8" height="3.7" rx="0.7"/><rect x="1028.30" y="538.65" width="3.8" height="3.7" rx="0.7"/><rect x="1038.56" y="538.65" width="3.8" height="3.7" rx="0.7"/><rect x="1048.82" y="538.65" width="3.8" height="3.7" rx="0.7"/><rect x="1059.08" y="538.65" width="3.8" height="3.7" rx="0.7"/><rect x="1069.34" y="538.65" width="3.8" height="3.7" rx="0.7"/><rect x="1079.60" y="538.65" width="3.8" height="3.7" rx="0.7"/><rect x="1089.86" y="538.65" width="3.8" height="3.7" rx="0.7"/><rect x="1100.12" y="538.65" width="3.8" height="3.7" rx="0.7"/><rect x="1110.38" y="538.65" width="3.8" height="3.7" rx="0.7"/><rect x="1120.64" y="538.65" width="3.8" height="3.7" rx="0.7"/><rect x="1130.90" y="538.65" width="3.8" height="3.7" rx="0.7"/><rect x="1141.16" y="538.65" width="3.8" height="3.7" rx="0.7"/><rect x="1151.42" y="538.65" width="3.8" height="3.7" rx="0.7"/><rect x="1161.68" y="538.65" width="3.8" height="3.7" rx="0.7"/><rect x="1171.94" y="538.65" width="3.8" height="3.7" rx="0.7"/><rect x="1182.20" y="538.65" width="3.8" height="3.7" rx="0.7"/><rect x="1192.46" y="538.65" width="3.8" height="3.7" rx="0.7"/><rect x="1202.72" y="538.65" width="3.8" height="3.7" rx="0.7"/><rect x="1212.98" y="538.65" width="3.8" height="3.7" rx="0.7"/><rect x="1223.24" y="538.65" width="3.8" height="3.7" rx="0.7"/><rect x="1233.50" y="538.65" width="3.8" height="3.7" rx="0.7"/><rect x="1243.76" y="538.65" width="3.8" height="3.7" rx="0.7"/><rect x="1254.02" y="538.65" width="3.8" height="3.7" rx="0.7"/><rect x="1264.28" y="538.65" width="3.8" height="3.7" rx="0.7"/><rect x="1274.54" y="538.65" width="3.8" height="3.7" rx="0.7"/><rect x="1284.80" y="538.65" width="3.8" height="3.7" rx="0.7"/><rect x="1295.06" y="538.65" width="3.8" height="3.7" rx="0.7"/><rect x="1305.32" y="538.65" width="3.8" height="3.7" rx="0.7"/><rect x="1315.58" y="538.65" width="3.8" height="3.7" rx="0.7"/><rect x="1325.84" y="538.65" width="3.8" height="3.7" rx="0.7"/><rect x="1336.10" y="538.65" width="3.8" height="3.7" rx="0.7"/><rect x="1346.36" y="538.65" width="3.8" height="3.7" rx="0.7"/><rect x="1356.62" y="538.65" width="3.8" height="3.7" rx="0.7"/><rect x="1366.88" y="538.65" width="3.8" height="3.7" rx="0.7"/><rect x="1377.14" y="538.65" width="3.8" height="3.7" rx="0.7"/><rect x="1387.40" y="538.65" width="3.8" height="3.7" rx="0.7"/><rect x="1397.66" y="538.65" width="3.8" height="3.7" rx="0.7"/><rect x="1407.92" y="538.65" width="3.8" height="3.7" rx="0.7"/><rect x="1418.18" y="538.65" width="3.8" height="3.7" rx="0.7"/><rect x="1428.44" y="538.65" width="3.8" height="3.7" rx="0.7"/><rect x="1438.70" y="538.65" width="3.8" height="3.7" rx="0.7"/><rect x="1448.96" y="538.65" width="3.8" height="3.7" rx="0.7"/><rect x="1459.22" y="538.65" width="3.8" height="3.7" rx="0.7"/><rect x="1469.48" y="538.65" width="3.8" height="3.7" rx="0.7"/><rect x="1479.74" y="538.65" width="3.8" height="3.7" rx="0.7"/><rect x="1490.00" y="538.65" width="3.8" height="3.7" rx="0.7"/><rect x="1500.26" y="538.65" width="3.8" height="3.7" rx="0.7"/><rect x="1510.52" y="538.65" width="3.8" height="3.7" rx="0.7"/><rect x="1520.78" y="538.65" width="3.8" height="3.7" rx="0.7"/><rect x="1531.04" y="538.65" width="3.8" height="3.7" rx="0.7"/><rect x="1541.30" y="538.65" width="3.8" height="3.7" rx="0.7"/><rect x="1551.56" y="538.65" width="3.8" height="3.7" rx="0.7"/></g>
<rect x="560" y="576" width="489" height="67" fill="#0093c6"/>
<rect x="560" y="576" width="489" height="2" fill="#80d0f0"/>
<rect x="560" y="576" width="2" height="67" fill="#cdeffa"/>
<rect x="1047" y="576" width="2" height="67" fill="#cdeffa"/>
<g fill="#0a94cc" stroke="#86d2f2" stroke-width="1.3"><rect x="53.60" y="651.65" width="3.8" height="3.7" rx="0.7"/><rect x="63.86" y="651.65" width="3.8" height="3.7" rx="0.7"/><rect x="74.12" y="651.65" width="3.8" height="3.7" rx="0.7"/><rect x="84.38" y="651.65" width="3.8" height="3.7" rx="0.7"/><rect x="94.64" y="651.65" width="3.8" height="3.7" rx="0.7"/><rect x="104.90" y="651.65" width="3.8" height="3.7" rx="0.7"/><rect x="115.16" y="651.65" width="3.8" height="3.7" rx="0.7"/><rect x="125.42" y="651.65" width="3.8" height="3.7" rx="0.7"/><rect x="135.68" y="651.65" width="3.8" height="3.7" rx="0.7"/><rect x="145.94" y="651.65" width="3.8" height="3.7" rx="0.7"/><rect x="156.20" y="651.65" width="3.8" height="3.7" rx="0.7"/><rect x="166.46" y="651.65" width="3.8" height="3.7" rx="0.7"/><rect x="176.72" y="651.65" width="3.8" height="3.7" rx="0.7"/><rect x="186.98" y="651.65" width="3.8" height="3.7" rx="0.7"/><rect x="197.24" y="651.65" width="3.8" height="3.7" rx="0.7"/><rect x="207.50" y="651.65" width="3.8" height="3.7" rx="0.7"/><rect x="217.76" y="651.65" width="3.8" height="3.7" rx="0.7"/><rect x="228.02" y="651.65" width="3.8" height="3.7" rx="0.7"/><rect x="238.28" y="651.65" width="3.8" height="3.7" rx="0.7"/><rect x="248.54" y="651.65" width="3.8" height="3.7" rx="0.7"/><rect x="258.80" y="651.65" width="3.8" height="3.7" rx="0.7"/><rect x="269.06" y="651.65" width="3.8" height="3.7" rx="0.7"/><rect x="279.32" y="651.65" width="3.8" height="3.7" rx="0.7"/><rect x="289.58" y="651.65" width="3.8" height="3.7" rx="0.7"/><rect x="299.84" y="651.65" width="3.8" height="3.7" rx="0.7"/><rect x="310.10" y="651.65" width="3.8" height="3.7" rx="0.7"/><rect x="320.36" y="651.65" width="3.8" height="3.7" rx="0.7"/><rect x="330.62" y="651.65" width="3.8" height="3.7" rx="0.7"/><rect x="340.88" y="651.65" width="3.8" height="3.7" rx="0.7"/><rect x="351.14" y="651.65" width="3.8" height="3.7" rx="0.7"/><rect x="361.40" y="651.65" width="3.8" height="3.7" rx="0.7"/><rect x="371.66" y="651.65" width="3.8" height="3.7" rx="0.7"/><rect x="381.92" y="651.65" width="3.8" height="3.7" rx="0.7"/><rect x="392.18" y="651.65" width="3.8" height="3.7" rx="0.7"/><rect x="402.44" y="651.65" width="3.8" height="3.7" rx="0.7"/><rect x="412.70" y="651.65" width="3.8" height="3.7" rx="0.7"/><rect x="422.96" y="651.65" width="3.8" height="3.7" rx="0.7"/><rect x="433.22" y="651.65" width="3.8" height="3.7" rx="0.7"/><rect x="443.48" y="651.65" width="3.8" height="3.7" rx="0.7"/><rect x="453.74" y="651.65" width="3.8" height="3.7" rx="0.7"/><rect x="464.00" y="651.65" width="3.8" height="3.7" rx="0.7"/><rect x="474.26" y="651.65" width="3.8" height="3.7" rx="0.7"/><rect x="484.52" y="651.65" width="3.8" height="3.7" rx="0.7"/><rect x="494.78" y="651.65" width="3.8" height="3.7" rx="0.7"/><rect x="505.04" y="651.65" width="3.8" height="3.7" rx="0.7"/><rect x="515.30" y="651.65" width="3.8" height="3.7" rx="0.7"/><rect x="525.56" y="651.65" width="3.8" height="3.7" rx="0.7"/><rect x="535.82" y="651.65" width="3.8" height="3.7" rx="0.7"/><rect x="546.08" y="651.65" width="3.8" height="3.7" rx="0.7"/><rect x="556.34" y="651.65" width="3.8" height="3.7" rx="0.7"/><rect x="566.60" y="651.65" width="3.8" height="3.7" rx="0.7"/><rect x="576.86" y="651.65" width="3.8" height="3.7" rx="0.7"/><rect x="587.12" y="651.65" width="3.8" height="3.7" rx="0.7"/><rect x="597.38" y="651.65" width="3.8" height="3.7" rx="0.7"/><rect x="607.64" y="651.65" width="3.8" height="3.7" rx="0.7"/><rect x="617.90" y="651.65" width="3.8" height="3.7" rx="0.7"/><rect x="628.16" y="651.65" width="3.8" height="3.7" rx="0.7"/><rect x="638.42" y="651.65" width="3.8" height="3.7" rx="0.7"/><rect x="648.68" y="651.65" width="3.8" height="3.7" rx="0.7"/><rect x="658.94" y="651.65" width="3.8" height="3.7" rx="0.7"/><rect x="669.20" y="651.65" width="3.8" height="3.7" rx="0.7"/><rect x="679.46" y="651.65" width="3.8" height="3.7" rx="0.7"/><rect x="689.72" y="651.65" width="3.8" height="3.7" rx="0.7"/><rect x="699.98" y="651.65" width="3.8" height="3.7" rx="0.7"/><rect x="710.24" y="651.65" width="3.8" height="3.7" rx="0.7"/><rect x="720.50" y="651.65" width="3.8" height="3.7" rx="0.7"/><rect x="730.76" y="651.65" width="3.8" height="3.7" rx="0.7"/><rect x="741.02" y="651.65" width="3.8" height="3.7" rx="0.7"/><rect x="751.28" y="651.65" width="3.8" height="3.7" rx="0.7"/><rect x="761.54" y="651.65" width="3.8" height="3.7" rx="0.7"/><rect x="771.80" y="651.65" width="3.8" height="3.7" rx="0.7"/><rect x="782.06" y="651.65" width="3.8" height="3.7" rx="0.7"/><rect x="792.32" y="651.65" width="3.8" height="3.7" rx="0.7"/><rect x="802.58" y="651.65" width="3.8" height="3.7" rx="0.7"/><rect x="812.84" y="651.65" width="3.8" height="3.7" rx="0.7"/><rect x="823.10" y="651.65" width="3.8" height="3.7" rx="0.7"/><rect x="833.36" y="651.65" width="3.8" height="3.7" rx="0.7"/><rect x="843.62" y="651.65" width="3.8" height="3.7" rx="0.7"/><rect x="853.88" y="651.65" width="3.8" height="3.7" rx="0.7"/><rect x="864.14" y="651.65" width="3.8" height="3.7" rx="0.7"/><rect x="874.40" y="651.65" width="3.8" height="3.7" rx="0.7"/><rect x="884.66" y="651.65" width="3.8" height="3.7" rx="0.7"/><rect x="894.92" y="651.65" width="3.8" height="3.7" rx="0.7"/><rect x="905.18" y="651.65" width="3.8" height="3.7" rx="0.7"/><rect x="915.44" y="651.65" width="3.8" height="3.7" rx="0.7"/><rect x="925.70" y="651.65" width="3.8" height="3.7" rx="0.7"/><rect x="935.96" y="651.65" width="3.8" height="3.7" rx="0.7"/><rect x="946.22" y="651.65" width="3.8" height="3.7" rx="0.7"/><rect x="956.48" y="651.65" width="3.8" height="3.7" rx="0.7"/><rect x="966.74" y="651.65" width="3.8" height="3.7" rx="0.7"/><rect x="977.00" y="651.65" width="3.8" height="3.7" rx="0.7"/><rect x="987.26" y="651.65" width="3.8" height="3.7" rx="0.7"/><rect x="997.52" y="651.65" width="3.8" height="3.7" rx="0.7"/><rect x="1007.78" y="651.65" width="3.8" height="3.7" rx="0.7"/><rect x="1018.04" y="651.65" width="3.8" height="3.7" rx="0.7"/><rect x="1028.30" y="651.65" width="3.8" height="3.7" rx="0.7"/><rect x="1038.56" y="651.65" width="3.8" height="3.7" rx="0.7"/><rect x="1048.82" y="651.65" width="3.8" height="3.7" rx="0.7"/><rect x="1059.08" y="651.65" width="3.8" height="3.7" rx="0.7"/><rect x="1069.34" y="651.65" width="3.8" height="3.7" rx="0.7"/><rect x="1079.60" y="651.65" width="3.8" height="3.7" rx="0.7"/><rect x="1089.86" y="651.65" width="3.8" height="3.7" rx="0.7"/><rect x="1100.12" y="651.65" width="3.8" height="3.7" rx="0.7"/><rect x="1110.38" y="651.65" width="3.8" height="3.7" rx="0.7"/><rect x="1120.64" y="651.65" width="3.8" height="3.7" rx="0.7"/><rect x="1130.90" y="651.65" width="3.8" height="3.7" rx="0.7"/><rect x="1141.16" y="651.65" width="3.8" height="3.7" rx="0.7"/><rect x="1151.42" y="651.65" width="3.8" height="3.7" rx="0.7"/><rect x="1161.68" y="651.65" width="3.8" height="3.7" rx="0.7"/><rect x="1171.94" y="651.65" width="3.8" height="3.7" rx="0.7"/><rect x="1182.20" y="651.65" width="3.8" height="3.7" rx="0.7"/><rect x="1192.46" y="651.65" width="3.8" height="3.7" rx="0.7"/><rect x="1202.72" y="651.65" width="3.8" height="3.7" rx="0.7"/><rect x="1212.98" y="651.65" width="3.8" height="3.7" rx="0.7"/><rect x="1223.24" y="651.65" width="3.8" height="3.7" rx="0.7"/><rect x="1233.50" y="651.65" width="3.8" height="3.7" rx="0.7"/><rect x="1243.76" y="651.65" width="3.8" height="3.7" rx="0.7"/><rect x="1254.02" y="651.65" width="3.8" height="3.7" rx="0.7"/><rect x="1264.28" y="651.65" width="3.8" height="3.7" rx="0.7"/><rect x="1274.54" y="651.65" width="3.8" height="3.7" rx="0.7"/><rect x="1284.80" y="651.65" width="3.8" height="3.7" rx="0.7"/><rect x="1295.06" y="651.65" width="3.8" height="3.7" rx="0.7"/><rect x="1305.32" y="651.65" width="3.8" height="3.7" rx="0.7"/><rect x="1315.58" y="651.65" width="3.8" height="3.7" rx="0.7"/><rect x="1325.84" y="651.65" width="3.8" height="3.7" rx="0.7"/><rect x="1336.10" y="651.65" width="3.8" height="3.7" rx="0.7"/><rect x="1346.36" y="651.65" width="3.8" height="3.7" rx="0.7"/><rect x="1356.62" y="651.65" width="3.8" height="3.7" rx="0.7"/><rect x="1366.88" y="651.65" width="3.8" height="3.7" rx="0.7"/><rect x="1377.14" y="651.65" width="3.8" height="3.7" rx="0.7"/><rect x="1387.40" y="651.65" width="3.8" height="3.7" rx="0.7"/><rect x="1397.66" y="651.65" width="3.8" height="3.7" rx="0.7"/><rect x="1407.92" y="651.65" width="3.8" height="3.7" rx="0.7"/><rect x="1418.18" y="651.65" width="3.8" height="3.7" rx="0.7"/><rect x="1428.44" y="651.65" width="3.8" height="3.7" rx="0.7"/><rect x="1438.70" y="651.65" width="3.8" height="3.7" rx="0.7"/><rect x="1448.96" y="651.65" width="3.8" height="3.7" rx="0.7"/><rect x="1459.22" y="651.65" width="3.8" height="3.7" rx="0.7"/><rect x="1469.48" y="651.65" width="3.8" height="3.7" rx="0.7"/><rect x="1479.74" y="651.65" width="3.8" height="3.7" rx="0.7"/><rect x="1490.00" y="651.65" width="3.8" height="3.7" rx="0.7"/><rect x="1500.26" y="651.65" width="3.8" height="3.7" rx="0.7"/><rect x="1510.52" y="651.65" width="3.8" height="3.7" rx="0.7"/><rect x="1520.78" y="651.65" width="3.8" height="3.7" rx="0.7"/><rect x="1531.04" y="651.65" width="3.8" height="3.7" rx="0.7"/><rect x="1541.30" y="651.65" width="3.8" height="3.7" rx="0.7"/><rect x="1551.56" y="651.65" width="3.8" height="3.7" rx="0.7"/></g>
</svg>
<div class="t o" style="right:1098.00px;top:133.76px;font-size:46px;line-height:46px;transform:scaleX(0.9172447494460919);transform-origin:100% 50%;"><span class="d">1</span><span class="d">0</span><span class="d">0</span> - <span class="d">1</span><span class="d">0</span><span class="d">0</span><span class="d">0</span> <span class="a">b</span>ar</div>
<div class="t w" style="left:304.45px;width:1000px;text-align:center;top:133.71px;font-size:45px;line-height:45px;transform:scaleX(0.9615018524399281);transform-origin:50% 50%;">pressure</div>
<div class="t o" style="left:1084.21px;top:133.76px;font-size:46px;line-height:46px;transform:scaleX(0.8400665241149917);transform-origin:0 50%;"><span class="d">1</span> - <span class="d">1</span><span class="d">0</span> <span class="a">b</span>ar</div>
<div class="t o" style="right:1099.99px;top:246.86px;font-size:46px;line-height:46px;transform:scaleX(0.919296066252588);transform-origin:100% 50%;"><span class="ap">&#8776;</span> <span class="d">0</span>,<span class="d">2</span> µs</div>
<div class="t w" style="left:304.47px;width:1000px;text-align:center;top:247.81px;font-size:45px;line-height:45px;transform:scaleX(0.9958305441771307);transform-origin:50% 50%;">pu<span class="ab">l</span>se <span class="ab">d</span>ura<span class="ab">t</span><span class="ab">i</span>on</div>
<div class="t o" style="left:1088.02px;top:246.86px;font-size:46px;line-height:46px;transform:scaleX(0.9166525586764138);transform-origin:0 50%;"><span class="d">0</span>,<span class="d">2</span> - <span class="d">0</span>,<span class="d">5</span> ms</div>
<div class="t o" style="right:1100.59px;top:360.26px;font-size:46px;line-height:46px;transform:scaleX(0.9449179927899845);transform-origin:100% 50%;"><span class="a">f</span>ocuse<span class="a">d</span></div>
<div class="t w" style="left:304.48px;width:1000px;text-align:center;top:359.91px;font-size:45px;line-height:45px;transform:scaleX(0.9616460905349794);transform-origin:50% 50%;">pressure <span class="ab">f</span><span class="ab">i</span>e<span class="ab">l</span><span class="ab">d</span></div>
<div class="t o" style="left:1090.37px;top:360.26px;font-size:46px;line-height:46px;transform:scaleX(0.949654667392841);transform-origin:0 50%;">ra<span class="a">d</span><span class="a">i</span>a<span class="a">l</span>, <span class="a">d</span><span class="a">i</span>vergen<span class="a">t</span></div>
<div class="t o" style="right:1099.99px;top:473.36px;font-size:46px;line-height:46px;transform:scaleX(0.9474707807386628);transform-origin:100% 50%;"><span class="a">l</span>arge</div>
<div class="t w" style="left:304.25px;width:1000px;text-align:center;top:473.01px;font-size:45px;line-height:45px;transform:scaleX(1.0146458821911295);transform-origin:50% 50%;">pene<span class="ab">t</span>ra<span class="ab">t</span><span class="ab">i</span>on <span class="ab">d</span>ep<span class="ab">t</span><span class="ab">h</span></div>
<div class="t o" style="left:1087.80px;top:473.36px;font-size:46px;line-height:46px;transform:scaleX(0.9439226559454555);transform-origin:0 50%;">sma<span class="a">l</span><span class="a">l</span>, super<span class="a">f</span><span class="a">i</span>c<span class="a">i</span>a<span class="a">l</span></div>
<div class="t o" style="right:1099.97px;top:585.66px;font-size:46px;line-height:46px;transform:scaleX(0.9161365015166836);transform-origin:100% 50%;">ce<span class="a">l</span><span class="a">l</span>s</div>
<div class="t w" style="left:303.88px;width:1000px;text-align:center;top:586.11px;font-size:45px;line-height:45px;transform:scaleX(1.0329045393615193);transform-origin:50% 50%;">e<span class="ab">f</span><span class="ab">f</span>ec<span class="ab">t</span></div>
<div class="t o" style="left:1087.00px;top:585.66px;font-size:46px;line-height:46px;transform:scaleX(0.9457608695652173);transform-origin:0 50%;"><span class="a">t</span><span class="a">i</span>ssue</div>
</body></html>
